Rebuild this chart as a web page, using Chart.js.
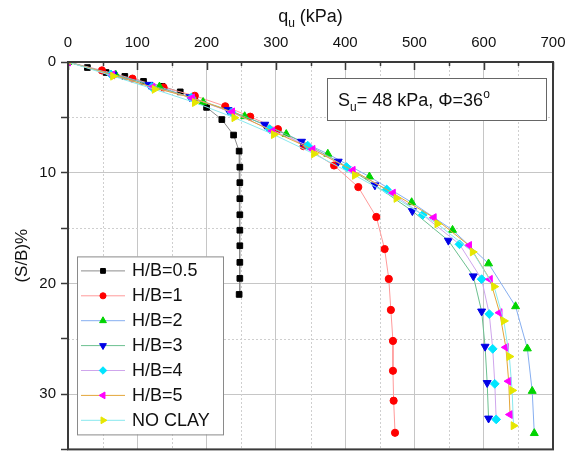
<!DOCTYPE html>
<html>
<head>
<meta charset="utf-8">
<script src="https://cdn.jsdelivr.net/npm/chart.js@4.4.1/dist/chart.umd.min.js"></script>
<style>
  html, body { margin: 0; padding: 0; background: #fff; }
  #wrap { width: 567px; height: 455px; position: relative; }
</style>
</head>
<body>
<div id="wrap"><canvas id="chart"></canvas></div>
<script>
// series labels
const seriesNames = ['H/B=0.5', 'H/B=1', 'H/B=2', 'H/B=3', 'H/B=4', 'H/B=5', 'NO CLAY'];

// q_u (kPa) and settlement (S/B)%
const qHB05 = [0, 28, 55, 82, 109, 136, 162, 183, 200, 222, 239, 247, 248, 248, 248, 248, 248, 248, 248, 248, 247];
const sHB05 = [0, 0.5, 0.95, 1.3, 1.75, 2.2, 2.7, 3.25, 4.1, 5.2, 6.6, 8.05, 9.5, 10.9, 12.35, 13.8, 15.2, 16.6, 18.1, 19.55, 21.0];

const qHB1 = [0, 49, 93, 138, 183, 227, 263, 303, 340, 384, 419, 445, 457, 463, 466, 469, 469, 470, 472];
const sHB1 = [0, 0.76, 1.5, 2.3, 3.05, 4.0, 4.94, 6.07, 7.6, 9.35, 11.3, 14.0, 16.9, 19.6, 22.4, 25.2, 27.9, 30.6, 33.5];

const qHB2 = [0, 69, 132, 195, 255, 315, 375, 435, 496, 555, 607, 646, 663, 670, 673];
const sHB2 = [0, 1.16, 2.23, 3.62, 4.91, 6.52, 8.3, 10.36, 12.68, 15.18, 18.21, 22.08, 25.89, 29.73, 33.54];

const qHB3 = [0, 65, 117, 176, 231, 284, 337, 390, 443, 497, 549, 585, 597, 602, 605, 607];
const sHB3 = [0, 1.12, 2.05, 3.17, 4.33, 5.65, 7.19, 8.99, 11.13, 13.46, 16.13, 19.35, 22.53, 25.71, 28.99, 32.2];

const qHB4 = [0, 62, 121, 178, 236, 291, 346, 402, 460, 512, 565, 597, 608, 613, 616, 618];
const sHB4 = [0, 1.12, 2.26, 3.21, 4.55, 6.07, 7.56, 9.49, 11.52, 13.81, 16.47, 19.62, 22.77, 25.92, 29.08, 32.29];

const qHB5 = [0, 64, 122, 179, 237, 295, 353, 411, 469, 528, 579, 609, 623, 632, 636, 638];
const sHB5 = [0, 1.16, 2.28, 3.24, 4.51, 6.25, 7.9, 9.79, 11.85, 14.06, 16.58, 19.64, 22.65, 25.78, 28.84, 31.85];

const qNoClay = [0, 65, 125, 183, 240, 297, 355, 414, 474, 533, 584, 615, 629, 637, 641, 643];
const sNoClay = [0, 1.28, 2.47, 3.66, 5.03, 6.56, 8.3, 10.24, 12.32, 14.62, 17.16, 20.29, 23.39, 26.61, 29.67, 32.86];

const qSeries = [qHB05, qHB1, qHB2, qHB3, qHB4, qHB5, qNoClay];
const sSeries = [sHB05, sHB1, sHB2, sHB3, sHB4, sHB5, sNoClay];

const markerColors = ['#000000', '#ff0000', '#00d400', '#0000e6', '#00e5ff', '#ff00ff', '#e6e600'];
const lineColors = ['#8c8c8c', '#ff9a9a', '#86aef0', '#6cc090', '#cfa6ec', '#e3a63a', '#88e8ee'];
const markerStyles = ['rect', 'circle', 'triangle', 'triangle', 'rectRot', 'triangle', 'triangle'];
const markerRotations = [0, 0, 0, 180, 0, 270, 90];
const markerRadius = [4, 3.6, 4.6, 4.6, 4.4, 4.6, 4.6];

const FONT = '"Liberation Sans", Arial, sans-serif';

const datasets = seriesNames.map((name, i) => ({
    label: name,
    data: qSeries[i].map((q, k) => ({ x: q, y: sSeries[i][k] })),
    showLine: true,
    borderColor: lineColors[i],
    borderWidth: 1,
    pointStyle: markerStyles[i],
    rotation: markerRotations[i],
    pointRadius: markerRadius[i],
    pointBackgroundColor: markerColors[i],
    pointBorderColor: markerColors[i],
    pointBorderWidth: 1,
    order: seriesNames.length - i,
}));

const majorX = v => v % 100 === 0;
const majorY = v => v % 10 === 0;

// dotted minor grid, top ticks pointing inward, frame, legend, labels
const decorations = {
    id: 'decorations',
    beforeDatasetsDraw(chart) {
        const { ctx, chartArea: a, scales } = chart;
        ctx.save();
        ctx.strokeStyle = '#cfcfcf';
        ctx.lineWidth = 1;
        ctx.setLineDash([2, 2]);
        scales.x.ticks.forEach(t => {
            if (majorX(t.value)) return;
            const px = Math.round(scales.x.getPixelForValue(t.value)) + 0.5;
            ctx.beginPath(); ctx.moveTo(px, a.top); ctx.lineTo(px, a.bottom); ctx.stroke();
        });
        scales.y.ticks.forEach(t => {
            if (majorY(t.value)) return;
            const py = Math.round(scales.y.getPixelForValue(t.value)) + 0.5;
            ctx.beginPath(); ctx.moveTo(a.left, py); ctx.lineTo(a.right, py); ctx.stroke();
        });
        ctx.restore();
    },
    afterDraw(chart) {
        const { ctx, chartArea: a, scales } = chart;
        ctx.save();

        // frame
        ctx.strokeStyle = '#3a3a3a';
        ctx.lineWidth = 2;
        ctx.strokeRect(a.left, a.top, a.right - a.left, a.bottom - a.top);

        // inward ticks on the top axis
        ctx.lineWidth = 1.5;
        scales.x.ticks.forEach(t => {
            const px = Math.round(scales.x.getPixelForValue(t.value)) + 0.5;
            const len = majorX(t.value) ? 8 : 4;
            ctx.beginPath(); ctx.moveTo(px, a.top); ctx.lineTo(px, a.top + len); ctx.stroke();
        });

        // axis title q_u (kPa)
        ctx.fillStyle = '#111';
        ctx.textBaseline = 'alphabetic';
        const cx = (a.left + a.right) / 2;
        ctx.font = '18px ' + FONT;
        const wq = ctx.measureText('q').width;
        const wr = ctx.measureText(' (kPa)').width;
        ctx.font = '12px ' + FONT;
        const wu = ctx.measureText('u').width;
        let tx = cx - (wq + wu + wr) / 2;
        ctx.font = '18px ' + FONT;
        ctx.fillText('q', tx, 22);
        ctx.font = '12px ' + FONT;
        ctx.fillText('u', tx + wq, 27);
        ctx.font = '18px ' + FONT;
        ctx.fillText(' (kPa)', tx + wq + wu, 22);

        // annotation box
        const bx = a.right - 226, by = a.top + 16;
        ctx.fillStyle = '#fff';
        ctx.fillRect(bx, by, 219, 42);
        ctx.strokeStyle = '#666';
        ctx.lineWidth = 1;
        ctx.strokeRect(bx + 0.5, by + 0.5, 219, 42);
        ctx.fillStyle = '#111';
        let ax = bx + 11;
        const base = by + 28;
        const parts = [
            ['S', 18, 0], ['u', 12, 5], ['= 48 kPa, \u03A6=36', 18, 0], ['o', 12, -8]
        ];
        parts.forEach(([txt, size, dy]) => {
            ctx.font = size + 'px ' + FONT;
            ctx.fillText(txt, ax, base + dy);
            ax += ctx.measureText(txt).width;
        });

        // legend
        const lx = a.left + 9, ly = a.bottom - 193, lw = 146, lh = 178;
        ctx.fillStyle = '#fff';
        ctx.fillRect(lx, ly, lw, lh);
        ctx.strokeStyle = '#8a8a8a';
        ctx.strokeRect(lx + 0.5, ly + 0.5, lw, lh);
        ctx.textBaseline = 'middle';
        ctx.font = '18px ' + FONT;
        seriesNames.forEach((name, i) => {
            const y = ly + 14 + i * 24.9;
            ctx.strokeStyle = lineColors[i];
            ctx.lineWidth = 1;
            ctx.beginPath(); ctx.moveTo(lx + 4, y + 0.5); ctx.lineTo(lx + 48, y + 0.5); ctx.stroke();
            ctx.fillStyle = markerColors[i];
            ctx.strokeStyle = markerColors[i];
            Chart.helpers.drawPoint(ctx, {
                pointStyle: markerStyles[i], rotation: markerRotations[i],
                radius: markerRadius[i] * 0.85, borderWidth: 1
            }, lx + 26, y + 0.5);
            ctx.fillStyle = '#111';
            ctx.fillText(name, lx + 55, y + 1);
        });
        ctx.restore();
    }
};

new Chart(document.getElementById('chart'), {
    type: 'scatter',
    data: { datasets },
    options: {
        responsive: true,
        maintainAspectRatio: false,
        animation: false,
        devicePixelRatio: 1,
        layout: { padding: { left: 0, right: 14, top: 0, bottom: 2 } },
        plugins: {
            legend: { display: false },
            tooltip: { enabled: false },
        },
        scales: {
            x: {
                type: 'linear',
                position: 'top',
                min: 0,
                max: 700,
                ticks: {
                    stepSize: 50,
                    autoSkip: false,
                    maxRotation: 0,
                    padding: 4,
                    color: '#111',
                    font: { size: 15, family: FONT },
                    callback: v => majorX(v) ? v : '',
                },
                grid: {
                    color: c => (c.tick && majorX(c.tick.value)) ? '#c6c6c6' : 'rgba(0,0,0,0)',
                    tickColor: 'rgba(0,0,0,0)',
                    tickLength: 6,
                },
                border: { display: false },
                afterFit: s => { s.height = 62; s.paddingLeft = 0; s.paddingRight = 0; },
            },
            y: {
                type: 'linear',
                reverse: true,
                min: 0,
                max: 35,
                ticks: {
                    stepSize: 5,
                    autoSkip: false,
                    padding: 5,
                    color: '#111',
                    font: { size: 15, family: FONT },
                    callback: v => majorY(v) ? v : '',
                },
                grid: {
                    color: c => (c.tick && majorY(c.tick.value)) ? '#c6c6c6' : 'rgba(0,0,0,0)',
                    tickColor: '#3a3a3a',
                    tickLength: 7,
                    tickWidth: 1.5,
                },
                border: { display: false },
                title: {
                    display: true,
                    text: '(S/B)%',
                    color: '#111',
                    font: { size: 17, family: FONT },
                    padding: { top: 12, bottom: 0 },
                },
                afterFit: s => { s.width = 68; s.paddingTop = 0; s.paddingBottom = 0; },
            },
        },
    },
    plugins: [decorations],
});
</script>
</body>
</html>
